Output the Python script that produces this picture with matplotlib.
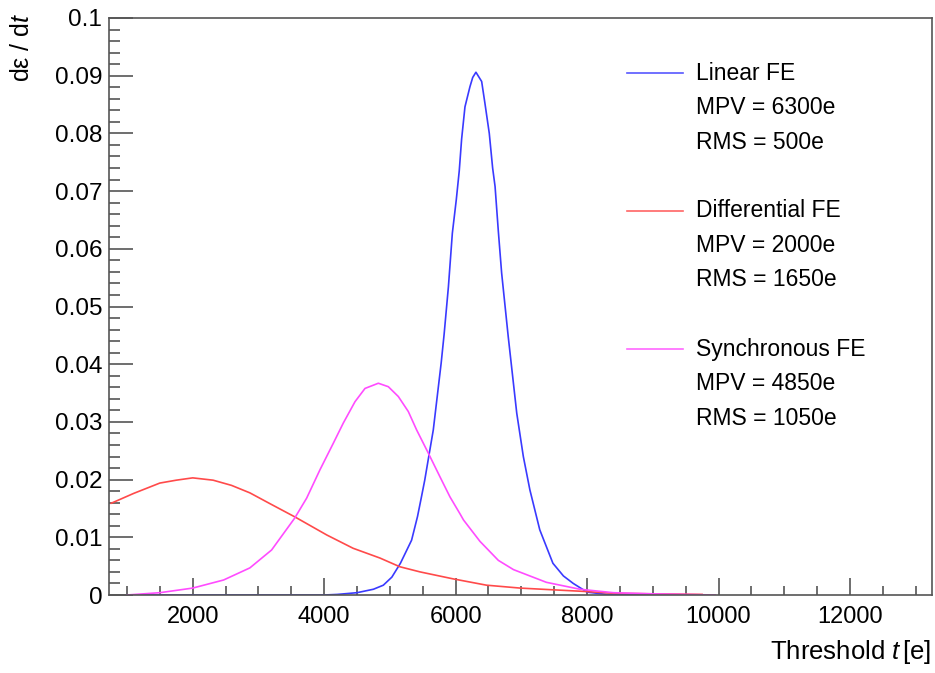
import matplotlib
matplotlib.use("Agg")
import matplotlib.pyplot as plt
from matplotlib.ticker import MultipleLocator, FuncFormatter

plt.rcParams['font.family'] = ['Liberation Sans', 'DejaVu Sans']
plt.rcParams['mathtext.fontset'] = 'custom'
plt.rcParams['mathtext.rm'] = 'Liberation Sans'
plt.rcParams['mathtext.it'] = 'Liberation Sans:italic'

# ---- data ----
linear_x = [1000, 4000, 4200, 4500, 4750, 4900, 5030, 5160, 5330, 5420, 5480, 5530, 5600, 5660,
            5720, 5780, 5825, 5890, 5950, 6010, 6055, 6091, 6142, 6218, 6260, 6309,
            6396, 6446, 6512, 6563, 6600, 6650, 6700, 6800, 6930, 7030, 7130, 7280, 7480,
            7640, 7790, 8000, 8300, 9000]
linear_y = [0.0, 0.0, 0.0001, 0.0004, 0.0010, 0.0017, 0.0031, 0.0055, 0.0095, 0.0136, 0.0170,
            0.0199, 0.0246, 0.0286, 0.0344, 0.0402, 0.0452, 0.0534, 0.0627, 0.0685, 0.0735,
            0.0790, 0.0846, 0.0881, 0.0897, 0.0906, 0.0890, 0.0852, 0.0800, 0.0740, 0.0708,
            0.0630, 0.0558, 0.0448, 0.0315, 0.0240, 0.0182, 0.0113, 0.0055, 0.0033, 0.0020,
            0.0005, 0.0001, 0.0]

diff_x = [760, 1100, 1500, 1750, 2000, 2310, 2590, 2870, 3180, 3560, 4040, 4440, 4850, 5150,
          5460, 5960, 6470, 6980, 7480, 7990, 8400, 9000, 9750]
diff_y = [0.0159, 0.0176, 0.0194, 0.0199, 0.0203, 0.0199, 0.0190, 0.0177, 0.0158, 0.0135,
          0.0104, 0.0081, 0.0064, 0.0049, 0.0040, 0.0028, 0.0017, 0.0012, 0.0009, 0.0006,
          0.0003, 0.0002, 0.0001]

sync_x = [1000, 1500, 2000, 2470, 2870, 3200, 3550, 3734, 3936, 4139, 4291, 4469, 4621, 4824,
          4976, 5128, 5280, 5407, 5584, 5761, 5914, 6070, 6120, 6370, 6650, 6880, 7380, 7890,
          8400, 9000, 9950]
sync_y = [0.0, 0.0004, 0.0012, 0.0026, 0.0047, 0.0078, 0.0133, 0.0168, 0.0217, 0.0263, 0.0298,
          0.0335, 0.0358, 0.0367, 0.0361, 0.0344, 0.0318, 0.0286, 0.0246, 0.0205, 0.0170,
          0.0140, 0.0130, 0.0093, 0.0060, 0.0044, 0.0022, 0.0010, 0.0004, 0.0002, 0.0]

labels = ["Linear FE", "Differential FE", "Synchronous FE"]
stats = [["MPV = 6300e", "RMS = 500e"],
         ["MPV = 2000e", "RMS = 1650e"],
         ["MPV = 4850e", "RMS = 1050e"]]
colors = ["#3a3aff", "#ff4a4a", "#ff4cff"]

W, H = 935, 673
fig = plt.figure(figsize=(W / 100, H / 100), dpi=100)
ax = fig.add_axes([109.3 / W, 1 - 595 / H, (932.3 - 109.3) / W, (595 - 18) / H])

series = [(linear_x, linear_y), (diff_x, diff_y), (sync_x, sync_y)]
for (xs, ys), c in zip(series, colors):
    ax.plot(xs, ys, color=c, lw=1.2, solid_joinstyle='round')

ax.set_xlim(731, 13252)
ax.set_ylim(0, 0.1)

ax.xaxis.set_major_locator(MultipleLocator(2000))
ax.xaxis.set_minor_locator(MultipleLocator(500))
ax.yaxis.set_major_locator(MultipleLocator(0.01))
ax.yaxis.set_minor_locator(MultipleLocator(0.002))
ax.yaxis.set_major_formatter(FuncFormatter(lambda v, p: "0" if abs(v) < 1e-9 else f"{v:g}"))
ax.xaxis.set_major_formatter(FuncFormatter(lambda v, p: f"{int(round(v))}"))

tc = "#555555"
ax.tick_params(axis='y', which='major', direction='in', length=17.5, width=1.2, color=tc,
               labelsize=17.5, pad=5)
ax.tick_params(axis='y', which='minor', direction='in', length=8, width=1.2, color=tc)
ax.tick_params(axis='x', which='major', direction='in', length=12.5, width=1.2, color=tc,
               labelsize=17, pad=8)
ax.tick_params(axis='x', which='minor', direction='in', length=6.5, width=1.2, color=tc)
for s in ax.spines.values():
    s.set_color(tc)
    s.set_linewidth(1.2)

# axis titles
fig.text(931.5 / W, 1 - 652 / H, r"Threshold $t\,$[e]", ha='right', va='center', fontsize=18.5)
fig.text(22 / W, 1 - 12 / H, r"d" + "\u03b5" + r" / d$t$", rotation=90, ha='center', va='top',
         fontsize=18)

# legend
row = 34.5
group_y = [73.3, 210.7, 349.3]
for lab, st, c, gy in zip(labels, stats, colors, group_y):
    ax.plot([627 / W, 683 / W], [1 - gy / H, 1 - gy / H], transform=fig.transFigure,
            color=c, lw=1.2, clip_on=False, alpha=0.85)
    fig.text(696 / W, 1 - gy / H, lab, ha='left', va='center', fontsize=16.5)
    for k, s in enumerate(st):
        fig.text(696 / W, 1 - (gy + row * (k + 1)) / H, s, ha='left', va='center', fontsize=16.5)

fig.savefig("out.png", dpi=100)
